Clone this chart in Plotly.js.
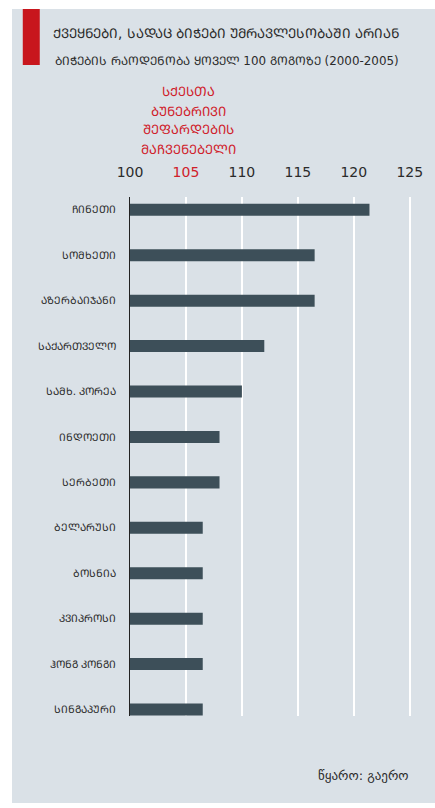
<!DOCTYPE html>
<html>
<head>
<meta charset="utf-8">
<script src="https://cdn.plot.ly/plotly-3.0.1.min.js"></script>
<style>
  html, body { margin: 0; padding: 0; background: #ffffff; width: 435px; height: 808px; overflow: hidden; }
  #chart { position: absolute; left: 12px; top: 9px; width: 423px; height: 794px; }
</style>
</head>
<body>
<div id="chart"></div>
<script>
// Data
const countries = ["ᲩᲘᲜᲔᲗᲘ", "ᲡᲝᲛᲮᲔᲗᲘ", "ᲐᲖᲔᲠᲑᲐᲘᲯᲐᲜᲘ", "ᲡᲐᲥᲐᲠᲗᲕᲔᲚᲝ", "ᲡᲐᲛᲮ. ᲙᲝᲠᲔᲐ", "ᲘᲜᲓᲝᲔᲗᲘ", "ᲡᲔᲠᲑᲔᲗᲘ", "ᲑᲔᲚᲐᲠᲣᲡᲘ", "ᲑᲝᲡᲜᲘᲐ", "ᲙᲕᲘᲞᲠᲝᲡᲘ", "ᲰᲝᲜᲒ ᲙᲝᲜᲒᲘ", "ᲡᲘᲜᲒᲐᲞᲣᲠᲘ"];
const boysPer100Girls = [121.4, 116.5, 116.5, 112.0, 110.0, 108.0, 108.0, 106.5, 106.5, 106.5, 106.5, 106.5];
const tickValues = [100, 105, 110, 115, 120, 125];
const tickLabels = ["100", "<span style=\"color:#d0202a\">105</span>", "110", "115", "120", "125"];
const naturalRatio = 105;
const naturalLabelLines = ["ᲡᲥᲔᲡᲗᲐ", "ᲑᲣᲜᲔᲑᲠᲘᲕᲘ", "ᲨᲔᲤᲐᲠᲓᲔᲑᲘᲡ", "ᲛᲐᲩᲕᲔᲜᲔᲑᲔᲚᲘ"];
const titleText = "ᲥᲕᲔᲧᲜᲔᲑᲘ, ᲡᲐᲓᲐᲪ ᲑᲘᲭᲔᲑᲘ ᲣᲛᲠᲐᲕᲚᲔᲡᲝᲑᲐᲨᲘ ᲐᲠᲘᲐᲜ";
const subtitleText = "ᲑᲘᲭᲔᲑᲘᲡ ᲠᲐᲝᲓᲔᲜᲝᲑᲐ ᲧᲝᲕᲔᲚ 100 ᲒᲝᲒᲝᲖᲔ (2000-2005)";
const sourceText = "წყარო: გაერო";

const FONT = "DejaVu Sans, Noto Sans, sans-serif";
const RED = "#d0202a";
const DARK = "#2b2b2b";

const annotations = [];
naturalLabelLines.forEach((t, i) => {
  annotations.push({
    text: t, xref: "x", yref: "paper", x: 105.2, y: 1 + (105 - i * 19) / 519,
    xanchor: "center", yanchor: "middle", showarrow: false,
    font: { family: FONT, size: 13, color: RED }
  });
});
annotations.push({
  text: subtitleText, xref: "paper", yref: "paper",
  x: (41 - 118.3) / 282.2, y: 1 + (188 - 52) / 519,
  xanchor: "left", yanchor: "middle", showarrow: false,
  font: { family: FONT, size: 11.9, color: DARK }
});
annotations.push({
  text: sourceText, xref: "paper", yref: "paper",
  x: (398 - 118.3) / 282.2, y: 1 - (766 - 188) / 519,
  xanchor: "right", yanchor: "middle", showarrow: false,
  font: { family: FONT, size: 13, color: DARK }
});

const trace = {
  type: "bar",
  orientation: "h",
  y: countries,
  x: boysPer100Girls,
  base: 0,
  width: 0.265,
  marker: { color: "#3d4f59" },
  hoverinfo: "x+y"
};

const layout = {
  width: 423, height: 794,
  margin: { l: 118, r: 23, t: 188, b: 87, pad: 0 },
  paper_bgcolor: "#dae1e7",
  plot_bgcolor: "#dae1e7",
  showlegend: false,
  title: {
    text: titleText,
    xref: "container", yref: "container",
    x: 41 / 423, xanchor: "left",
    y: 1 - 24 / 794, yanchor: "middle",
    font: { family: FONT, size: 13.4, color: DARK }
  },
  xaxis: {
    side: "top",
    range: [100, 125.2],
    tickvals: tickValues,
    ticktext: tickLabels,
    ticks: "",
    ticklabelstandoff: 16,
    tickfont: { family: FONT, size: 14, color: DARK },
    showgrid: true, gridcolor: "#ffffff", gridwidth: 1.5,
    zeroline: false, showline: false, fixedrange: true
  },
  yaxis: {
    type: "category",
    categoryorder: "array",
    categoryarray: countries,
    range: [11.143, -0.282],
    ticks: "",
    ticklabelstandoff: 10,
    tickfont: { family: FONT, size: 10.5, color: DARK },
    showgrid: false, zeroline: false,
    showline: true, linecolor: "#222222", linewidth: 1.5,
    fixedrange: true
  },
  shapes: [
    {
      type: "line", xref: "x", yref: "paper",
      x0: naturalRatio, x1: naturalRatio, y0: 0, y1: 1,
      line: { color: "#e0141e", width: 1.5 }, layer: "between"
    },
    {
      type: "rect", xref: "paper", yref: "paper",
      x0: (11 - 118.3) / 282.2, x1: (28 - 118.3) / 282.2,
      y0: 1 + (188 - 56) / 519, y1: 1 + 188 / 519,
      fillcolor: "#c8161d", line: { width: 0 }
    }
  ],
  annotations: annotations
};

Plotly.newPlot("chart", [trace], layout, { displayModeBar: false, staticPlot: true });
</script>
</body>
</html>
